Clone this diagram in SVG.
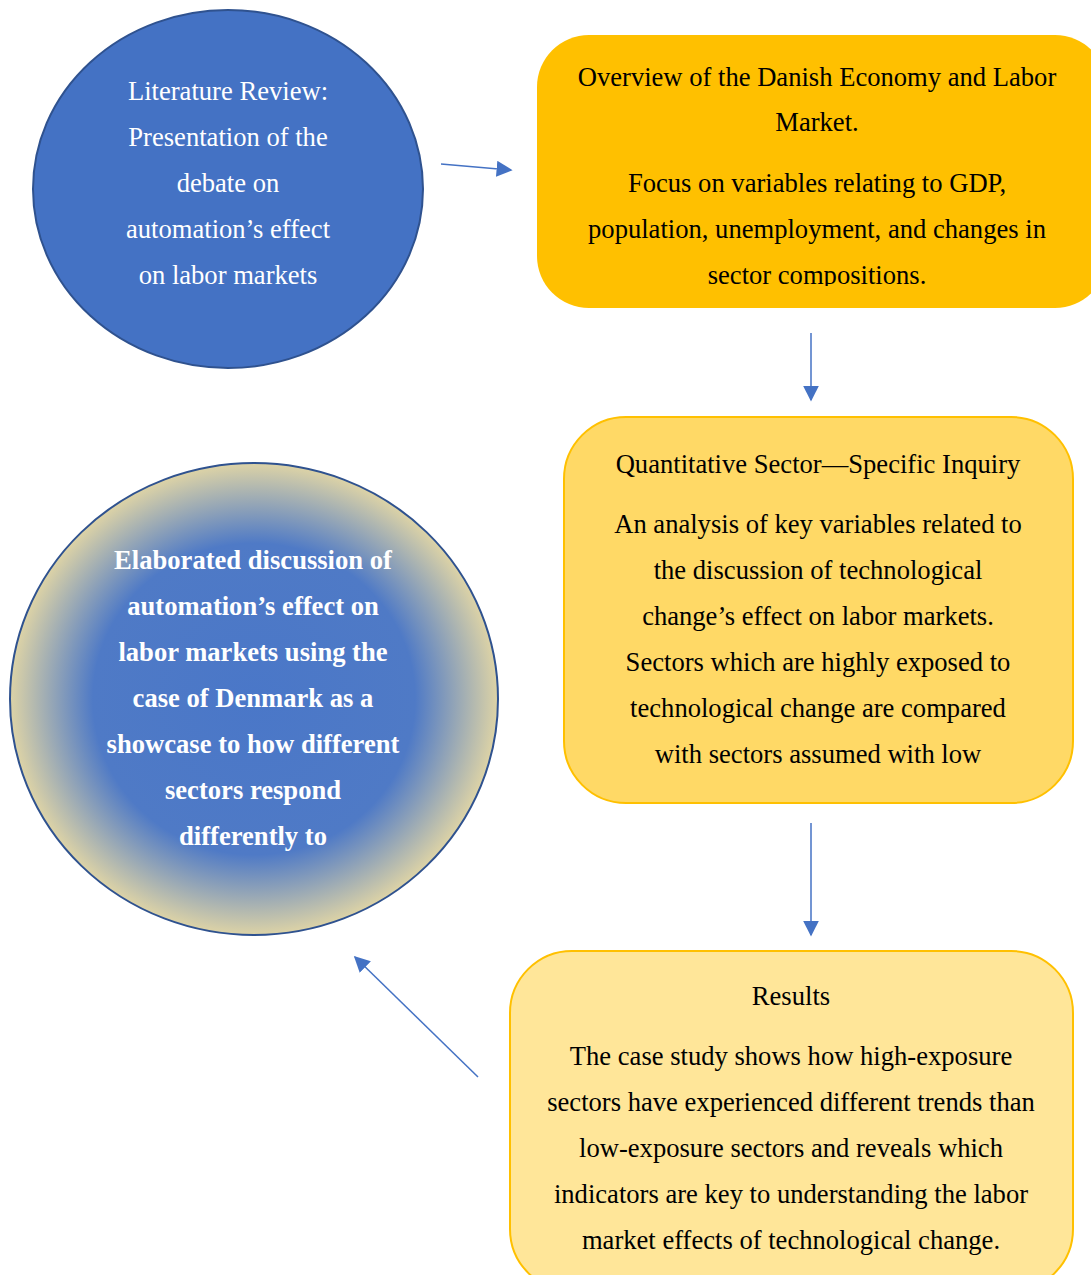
<svg xmlns="http://www.w3.org/2000/svg" width="1091" height="1275" viewBox="0 0 1091 1275">
<defs>
<style>
.t{font-family:"Liberation Serif","Times New Roman",serif;font-size:26.6px;text-anchor:middle}
.w{fill:#ffffff}
.k{fill:#000000}
.b{font-weight:bold}
.conn line{stroke:#4472C4;stroke-width:1.5;fill:none}
</style>
<marker id="ah2" viewBox="0 0 10 10" refX="9" refY="5" markerWidth="16" markerHeight="16" markerUnits="userSpaceOnUse" orient="auto">
<path d="M0,0 L10,5 L0,10 z" fill="#4472C4"/>
</marker>
<radialGradient id="rg" cx="0.5" cy="0.5" r="0.5">
<stop offset="0" stop-color="#4A77C8"/>
<stop offset="0.66" stop-color="#4F7AC6"/>
<stop offset="1" stop-color="#DDD3A6"/>
</radialGradient>
<clipPath id="c1"><rect x="530" y="30" width="561" height="256"/></clipPath>
</defs>
<rect width="1091" height="1275" fill="#ffffff"/>
<g class="conn">
<line x1="441" y1="164" x2="511" y2="170" marker-end="url(#ah2)"/>
<line x1="811" y1="333" x2="811" y2="400" marker-end="url(#ah2)"/>
<line x1="811" y1="823" x2="811" y2="935" marker-end="url(#ah2)"/>
<line x1="478" y1="1077" x2="355" y2="957" marker-end="url(#ah2)"/>
</g>
<g id="lit">
<ellipse cx="228" cy="189" rx="195" ry="179" fill="#4472C4" stroke="#2F528F" stroke-width="2"/>
<text class="t w" x="228" y="100">Literature Review:</text>
<text class="t w" x="228" y="146">Presentation of the</text>
<text class="t w" x="228" y="192">debate on</text>
<text class="t w" x="228" y="238">automation’s effect</text>
<text class="t w" x="228" y="284">on labor markets</text>
</g>
<g id="overview">
<rect x="537" y="35" width="570" height="273" rx="52" ry="52" fill="#FFC000"/>
<g clip-path="url(#c1)">
<text class="t k" x="817" y="86">Overview of the Danish Economy and Labor</text>
<text class="t k" x="817" y="131">Market.</text>
<text class="t k" x="817" y="192">Focus on variables relating to GDP,</text>
<text class="t k" x="817" y="238">population, unemployment, and changes in</text>
<text class="t k" x="817" y="284">sector compositions.</text>
</g>
</g>
<g id="quant">
<rect x="564" y="417" width="509" height="386" rx="62" ry="62" fill="#FFD966" stroke="#FFC000" stroke-width="2"/>
<text class="t k" x="818" y="473">Quantitative Sector—Specific Inquiry</text>
<text class="t k" x="818" y="533">An analysis of key variables related to</text>
<text class="t k" x="818" y="579">the discussion of technological</text>
<text class="t k" x="818" y="625">change’s effect on labor markets.</text>
<text class="t k" x="818" y="671">Sectors which are highly exposed to</text>
<text class="t k" x="818" y="717">technological change are compared</text>
<text class="t k" x="818" y="763">with sectors assumed with low</text>
</g>
<g id="results">
<rect x="510" y="951" width="563" height="340" rx="62" ry="62" fill="#FFE699" stroke="#FFC000" stroke-width="2"/>
<text class="t k" x="791" y="1005">Results</text>
<text class="t k" x="791" y="1065">The case study shows how high-exposure</text>
<text class="t k" x="791" y="1111">sectors have experienced different trends than</text>
<text class="t k" x="791" y="1157">low-exposure sectors and reveals which</text>
<text class="t k" x="791" y="1203">indicators are key to understanding the labor</text>
<text class="t k" x="791" y="1249">market effects of technological change.</text>
</g>
<g id="discussion">
<ellipse cx="254" cy="699" rx="244" ry="236" fill="url(#rg)" stroke="#2F528F" stroke-width="2"/>
<text class="t w b" x="253" y="569">Elaborated discussion of</text>
<text class="t w b" x="253" y="615">automation’s effect on</text>
<text class="t w b" x="253" y="661">labor markets using the</text>
<text class="t w b" x="253" y="707">case of Denmark as a</text>
<text class="t w b" x="253" y="753">showcase to how different</text>
<text class="t w b" x="253" y="799">sectors respond</text>
<text class="t w b" x="253" y="845">differently to</text>
</g>
</svg>
